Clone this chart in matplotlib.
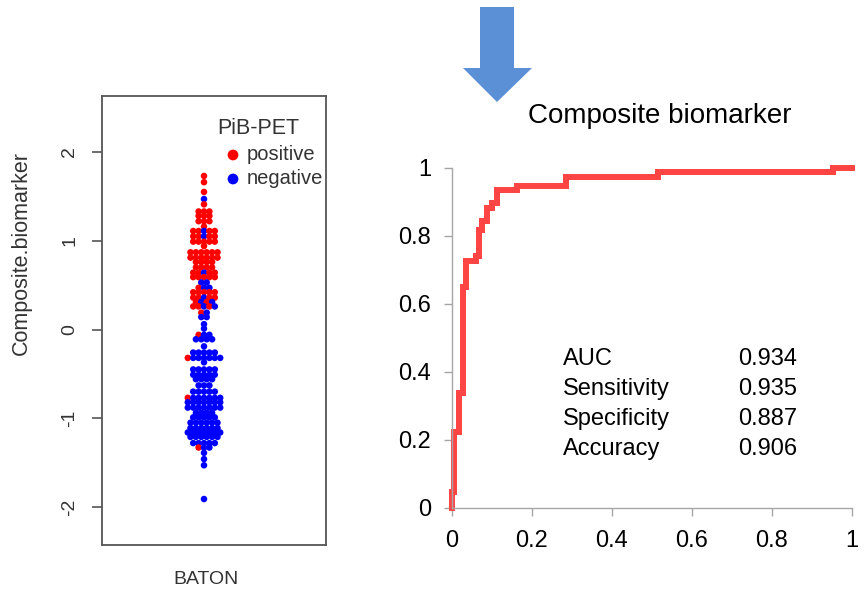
import matplotlib
matplotlib.use("Agg")
import matplotlib.pyplot as plt
from matplotlib.patches import Polygon
import numpy as np

plt.rcParams['font.family'] = ['Liberation Sans', 'DejaVu Sans']
plt.rcParams['axes.unicode_minus'] = False

W, H = 865, 597

# beeswarm rows: composite biomarker level and how many PiB-PET positive / negative sit on it
row_level = [1.73, 1.66, 1.55, 1.47, 1.41, 1.33, 1.28, 1.22, 1.16, 1.11, 1.05, 0.99, 0.94,
             0.87, 0.81, 0.76, 0.70, 0.64, 0.59, 0.53, 0.47, 0.42, 0.36, 0.31, 0.26, 0.19,
             0.14, 0.06, 0.01, -0.06, -0.11, -0.19, -0.26, -0.32, -0.37, -0.45, -0.51,
             -0.56, -0.63, -0.70, -0.77, -0.82, -0.88, -0.94, -0.99, -1.05, -1.11, -1.16,
             -1.21, -1.28, -1.33, -1.39, -1.46, -1.53, -1.91]
n_pos = [1, 1, 1, 0, 1, 3, 3, 3, 1, 4, 4, 5, 1, 6, 6, 4, 4, 4, 5, 0, 1, 5, 4, 2, 3, 1,
         0, 0, 0, 1, 0, 0, 0, 1, 0, 0, 0, 0, 0, 0, 1, 0, 0, 0, 0, 0, 0, 0,
         0, 0, 1, 0, 0, 0, 0]
n_neg = [0, 0, 0, 1, 0, 0, 0, 0, 0, 1, 1, 0, 0, 0, 0, 0, 0, 1, 0, 2, 2, 0, 1, 2, 2, 1,
         2, 1, 1, 2, 4, 1, 5, 6, 1, 5, 5, 4, 3, 5, 6, 7, 7, 4, 5, 6, 6, 7,
         6, 5, 2, 1, 1, 1, 1]
y_ticks_left = [-2, -1, 0, 1, 2]

# ROC curve corners (false positive rate, true positive rate)
fpr = [0, 0, 0.005, 0.018, 0.028, 0.035, 0.060, 0.068, 0.075, 0.088, 0.100, 0.113,
       0.163, 0.286, 0.516, 0.952, 1.0]
tpr = [0, 0.047, 0.224, 0.338, 0.649, 0.727, 0.740, 0.818, 0.844, 0.883, 0.896, 0.935,
       0.948, 0.974, 0.987, 1.0, 1.0]
roc_ticks = [0, 0.2, 0.4, 0.6, 0.8, 1]

metric_names = ['AUC', 'Sensitivity', 'Specificity', 'Accuracy']
metric_values = ['0.934', '0.935', '0.887', '0.906']


def fx(px):
    return px / W


def fy(py):
    return 1 - py / H


fig = plt.figure(figsize=(W / 100, H / 100), dpi=100)

# ---- left: beeswarm ----
ax1 = fig.add_axes([fx(102), fy(545), fx(326 - 102), (545 - 96) / H])
step = 5.4
xs, ys, cs = [], [], []
for lev, p, n in zip(row_level, n_pos, n_neg):
    k = p + n
    cols = ['#ff0000'] * p + ['#0000ff'] * n
    # mix colours a little inside the row
    if p and n:
        cols = cols[::2] + cols[1::2]
    for i, c in enumerate(cols):
        xs.append((i - (k - 1) / 2) * step)
        ys.append(lev)
        cs.append(c)
ax1.scatter(xs, ys, s=22, c=cs, linewidths=0)
ax1.set_xlim(-102, 122)
ax1.set_ylim(-(545 - 329.5) / 88.75, (329.5 - 96) / 88.75)
ax1.set_xticks([])
ax1.set_yticks(y_ticks_left)
ax1.set_yticklabels([str(t) for t in y_ticks_left])
ax1.tick_params(axis='y', direction='out', length=7, width=1.2, color='#555555',
                pad=10, labelsize=14, labelcolor='#333333', labelrotation=90)
for sp in ax1.spines.values():
    sp.set_color('#555555')
    sp.set_linewidth(1.3)
for lab in ax1.get_yticklabels():
    lab.set_va('center')

fig.text(fx(21), fy(253), 'Composite.biomarker', rotation=90, ha='center', va='center',
         fontsize=15.5, color='#333333')
fig.text(fx(206), fy(580), 'BATON', ha='center', va='center', fontsize=14, color='#333333')

# legend
fig.text(fx(258), fy(129), 'PiB-PET', ha='center', va='center', fontsize=15.5, color='#333333')
ax1.scatter([233 - 204, 233 - 204], [(329.5 - 155) / 88.75, (329.5 - 179) / 88.75],
            s=60, c=['#ff0000', '#0000ff'], linewidths=0)
fig.text(fx(247), fy(155), 'positive', ha='left', va='center', fontsize=14.5, color='#333333')
fig.text(fx(247), fy(179), 'negative', ha='left', va='center', fontsize=14.5, color='#333333')

# ---- right: ROC ----
ax2 = fig.add_axes([fx(452), fy(508), fx(852 - 452), (508 - 168) / H])
ax2.plot(fpr, tpr, drawstyle='steps-post', color='#ff4444', lw=4.3,
         solid_joinstyle='miter', clip_on=False)
ax2.set_xlim(0, 1)
ax2.set_ylim(0, 1)
ax2.set_xticks(roc_ticks)
ax2.set_xticklabels(['0', '0.2', '0.4', '0.6', '0.8', '1'])
ax2.set_yticks(roc_ticks)
ax2.set_yticklabels(['0', '0.2', '0.4', '0.6', '0.8', '1'])
ax2.spines['top'].set_visible(False)
ax2.spines['right'].set_visible(False)
for s in ('left', 'bottom'):
    ax2.spines[s].set_color('#a6a6a6')
    ax2.spines[s].set_linewidth(1.0)
ax2.tick_params(axis='both', direction='out', length=6, width=1.0, color='#a6a6a6',
                labelsize=17, labelcolor='black')
ax2.tick_params(axis='x', pad=10)
ax2.tick_params(axis='y', pad=9)

fig.text(fx(660), fy(123), 'Composite biomarker', ha='center', va='baseline', fontsize=20)

for i, (name, val) in enumerate(zip(metric_names, metric_values)):
    yb = 365 + 30 * i
    fig.text(fx(563), fy(yb), name, ha='left', va='baseline', fontsize=17)
    fig.text(fx(738), fy(yb), val, ha='left', va='baseline', fontsize=17)

# ---- blue arrow ----
arrow = [(480, 7), (514, 7), (514, 68), (532, 68), (497, 102), (463, 68), (480, 68)]
fig.add_artist(Polygon([(fx(x), fy(y)) for x, y in arrow], closed=True,
                       facecolor='#5b8fd6', edgecolor='none', transform=fig.transFigure))

fig.savefig('out.png', dpi=100)
